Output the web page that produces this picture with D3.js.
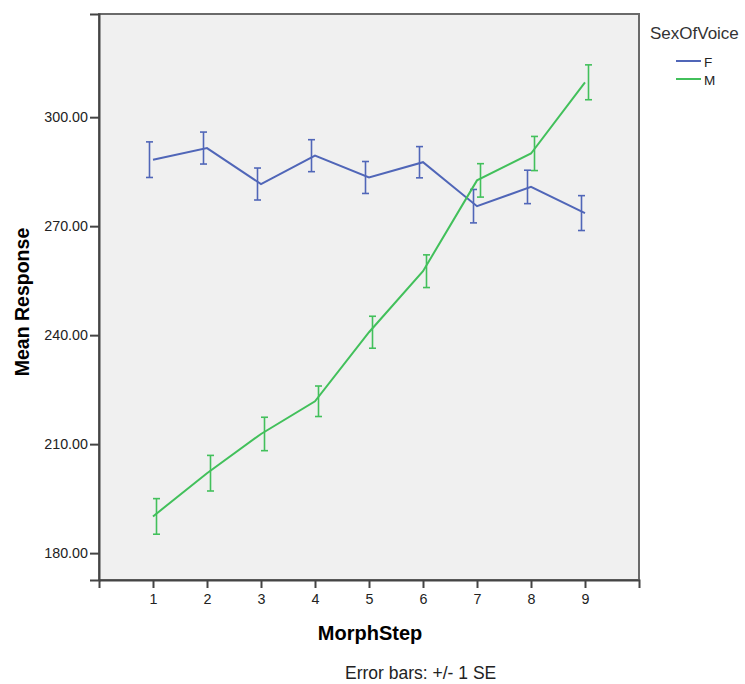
<!DOCTYPE html>
<html>
<head>
<meta charset="utf-8">
<script src="https://cdn.jsdelivr.net/npm/d3@7"></script>
<style>
    body { margin: 0; background: #fff; }
    svg { font-family: "Liberation Sans", Arial, sans-serif; }
    .tick text { font-size: 14.3px; fill: #222; }
    .axis path, .axis line { stroke: #444; }
</style>
</head>
<body>
<svg id="chart"></svg>
<script>
// Data
const steps = [1, 2, 3, 4, 5, 6, 7, 8, 9];
const fMeans = [288.3, 291.5, 281.6, 289.4, 283.4, 287.6, 275.5, 280.8, 273.6];
const fSE = [4.9, 4.4, 4.4, 4.4, 4.4, 4.3, 4.6, 4.6, 4.8];
const mMeans = [190.1, 202.0, 212.8, 221.8, 240.8, 257.6, 282.6, 290.0, 309.6];
const mSE = [4.9, 4.9, 4.6, 4.2, 4.4, 4.5, 4.6, 4.7, 4.8];
const yTicks = [180, 210, 240, 270, 300];
const seriesNames = ['F', 'M'];
const colors = ['#5066b8', '#42c05b'];

const width = 745, height = 684;
const margin = { top: 14, right: 106, bottom: 104, left: 99 };
const innerW = width - margin.left - margin.right;
const innerH = height - margin.top - margin.bottom;

const svg = d3.select('#chart')
    .attr('width', width)
    .attr('height', height);

const chart = svg.append('g')
    .attr('transform', `translate(${margin.left},${margin.top})`);

const xScale = d3.scaleLinear()
    .domain([0, 10])
    .range([0, innerW]);

const yScale = d3.scaleLinear()
    .domain([172.6, 328.4])
    .range([innerH, 0]);

// plot background
chart.append('rect')
    .attr('width', innerW)
    .attr('height', innerH)
    .attr('fill', '#f0f0f0')
    .attr('stroke', '#6a6a6a')
    .attr('stroke-width', 2);

// axes
const yAxis = d3.axisLeft(yScale)
    .tickValues(yTicks)
    .tickFormat(d3.format('.2f'))
    .tickSize(9)
    .tickPadding(2);

const xAxis = d3.axisBottom(xScale)
    .tickValues(steps)
    .tickFormat(d3.format('d'))
    .tickSize(8)
    .tickPadding(6);

chart.append('g')
    .attr('class', 'axis y-axis')
    .call(yAxis)
    .call(g => g.select('.domain').attr('stroke-width', 2).attr('stroke', '#3a3a3a'))
    .call(g => g.selectAll('.tick line').attr('stroke-width', 2));

chart.append('g')
    .attr('class', 'axis x-axis')
    .attr('transform', `translate(0,${innerH})`)
    .call(xAxis)
    .call(g => g.select('.domain').attr('stroke-width', 2).attr('stroke', '#3a3a3a'))
    .call(g => g.selectAll('.tick line').attr('stroke-width', 2));

// axis titles
svg.append('text')
    .attr('transform', `translate(29,${margin.top + innerH / 2 + 5}) rotate(-90)`)
    .attr('text-anchor', 'middle')
    .attr('font-size', 19.5)
    .attr('font-weight', 'bold')
    .attr('fill', '#000')
    .text('Mean Response');

svg.append('text')
    .attr('x', margin.left + innerW / 2 + 1)
    .attr('y', 640)
    .attr('text-anchor', 'middle')
    .attr('font-size', 20)
    .attr('font-weight', 'bold')
    .attr('fill', '#000')
    .text('MorphStep');

svg.append('text')
    .attr('x', 345)
    .attr('y', 679)
    .attr('font-size', 17.5)
    .attr('fill', '#222')
    .text('Error bars: +/- 1 SE');

// series
const series = [
    { name: seriesNames[0], means: fMeans, se: fSE, color: colors[0], dx: -3.5 },
    { name: seriesNames[1], means: mMeans, se: mSE, color: colors[1], dx: 3.5 }
];

const line = d3.line()
    .x(d => xScale(d.step))
    .y(d => yScale(d.mean));

series.forEach(s => {
    const pts = steps.map((st, i) => ({ step: st, mean: s.means[i], se: s.se[i] }));

    chart.append('path')
        .datum(pts)
        .attr('fill', 'none')
        .attr('stroke', s.color)
        .attr('stroke-width', 2)
        .attr('d', line);

    const bars = chart.append('g')
        .attr('stroke', s.color)
        .attr('stroke-width', 1.6)
        .selectAll('g')
        .data(pts)
        .join('g')
        .attr('transform', d => `translate(${xScale(d.step) + s.dx},0)`);

    bars.append('line')
        .attr('y1', d => yScale(d.mean + d.se))
        .attr('y2', d => yScale(d.mean - d.se));
    bars.append('line')
        .attr('x1', -3.5).attr('x2', 3.5)
        .attr('y1', d => yScale(d.mean + d.se))
        .attr('y2', d => yScale(d.mean + d.se));
    bars.append('line')
        .attr('x1', -3.5).attr('x2', 3.5)
        .attr('y1', d => yScale(d.mean - d.se))
        .attr('y2', d => yScale(d.mean - d.se));
});

// legend
const legend = svg.append('g')
    .attr('transform', `translate(643,0)`);

legend.append('text')
    .attr('x', 7)
    .attr('y', 39)
    .attr('font-size', 17)
    .attr('fill', '#333')
    .text('SexOfVoice');

series.forEach((s, i) => {
    legend.append('line')
        .attr('x1', 33).attr('x2', 58)
        .attr('y1', 61 + i * 18).attr('y2', 61 + i * 18)
        .attr('stroke', s.color)
        .attr('stroke-width', 2);
    legend.append('text')
        .attr('x', 61)
        .attr('y', 66.5 + i * 18)
        .attr('font-size', 13.5)
        .attr('fill', '#222')
        .text(s.name);
});
</script>
</body>
</html>
